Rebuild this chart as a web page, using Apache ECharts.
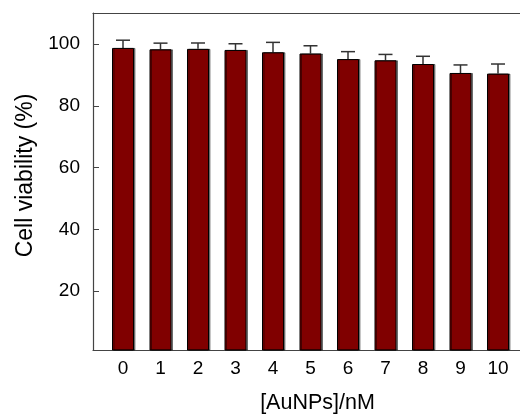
<!DOCTYPE html>
<html>
<head>
<meta charset="utf-8">
<script src="https://cdn.jsdelivr.net/npm/echarts@6/dist/echarts.min.js"></script>
<style>html,body{margin:0;padding:0;background:#fff}#c{width:520px;height:416px}</style>
</head>
<body>
<div id="c"></div>
<script>
var concentrations = [0, 1, 2, 3, 4, 5, 6, 7, 8, 9, 10];
var viability = [98.7, 98.25, 98.4, 98.05, 97.3, 96.9, 95.1, 94.7, 93.5, 90.6, 90.4];
var errors = [2.5, 2.0, 1.9, 2.0, 3.2, 2.5, 2.4, 1.9, 2.5, 2.6, 3.1];
var yTicks = [20, 40, 60, 80, 100];

var font = 'Liberation Sans, Arial, sans-serif';
var barData = concentrations.map(function (c, i) { return [c, viability[i]]; });
var errData = concentrations.map(function (c, i) { return [c, viability[i], viability[i] + errors[i]]; });

var chart = echarts.init(document.getElementById('c'), null, {renderer: 'canvas'});
chart.setOption({
  animation: false,
  backgroundColor: '#fff',
  grid: {left: 93, top: 13, right: -8, bottom: 66, containLabel: false, outerBoundsMode: 'none'},
  xAxis: [{
    type: 'value', min: -0.8, max: 10.8,
    splitLine: {show: false},
    axisLine: {onZero: false, lineStyle: {color: '#444', width: 1.2}},
    axisTick: {show: false},
    axisLabel: {customValues: concentrations, color: '#000', fontSize: 19, fontFamily: font, margin: 9},
    name: '[AuNPs]/nM', nameLocation: 'middle', nameGap: 42,
    nameTextStyle: {color: '#000', fontSize: 21.5, fontFamily: font, padding: [0, 0, 0, 14]}
  }, {
    type: 'value', min: -0.8, max: 10.8, position: 'top',
    splitLine: {show: false},
    axisLine: {onZero: false, lineStyle: {color: '#444', width: 1.2}},
    axisTick: {show: false}, axisLabel: {show: false}
  }],
  yAxis: {
    type: 'value', min: 1, max: 110,
    splitLine: {show: false},
    axisLine: {show: true, onZero: false, lineStyle: {color: '#444', width: 1.2}},
    axisTick: {show: true, inside: true, length: 6, customValues: yTicks, lineStyle: {color: '#444'}},
    axisLabel: {customValues: yTicks, color: '#000', fontSize: 19, fontFamily: font, margin: 13},
    name: 'Cell viability (%)', nameLocation: 'middle', nameGap: 55, nameRotate: 90,
    nameTextStyle: {color: '#000', fontSize: 23, fontFamily: font, padding: [0, 0, 0, 12]}
  },
  series: [{
    type: 'bar', xAxisIndex: 0, data: barData, barWidth: 22,
    itemStyle: {color: '#800000', borderColor: '#000', borderWidth: 1,
      shadowColor: 'rgba(0,0,0,0.45)', shadowOffsetX: 1.5, shadowBlur: 0}
  }, {
    type: 'custom', xAxisIndex: 0, data: errData, z: 1,
    renderItem: function (params, api) {
      var x = api.value(0);
      var lo = api.coord([x, api.value(1)]);
      var hi = api.coord([x, api.value(2)]);
      var hw = 7;
      return {
        type: 'group',
        children: [
          {type: 'line', shape: {x1: lo[0], y1: lo[1], x2: hi[0], y2: hi[1]}, style: {stroke: '#333', lineWidth: 1.5}},
          {type: 'line', shape: {x1: hi[0] - hw, y1: hi[1], x2: hi[0] + hw, y2: hi[1]}, style: {stroke: '#333', lineWidth: 1.5}}
        ]
      };
    }
  }]
});
</script>
</body>
</html>
